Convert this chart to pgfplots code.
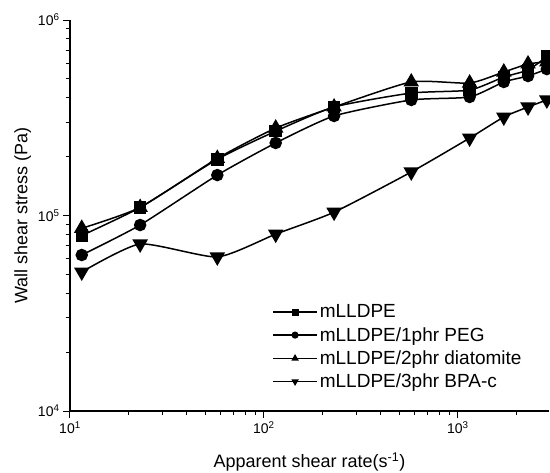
\documentclass[border=0pt]{standalone}
\usepackage{fontspec}
\setmainfont{Liberation Sans}
\usepackage{pgfplots}
\pgfplotsset{compat=1.18}
\begin{document}
\begin{tikzpicture}
\begin{axis}[
    name=ax,
    xmode=log, ymode=log,
    scale only axis,
    width=479pt, height=391pt,
    xmin=10, xmax=2950,
    ymin=1e4, ymax=1e6,
    axis lines*=left,
    axis line style={line width=1.3pt},
    tick align=outside,
    tick style={black, line width=1pt},
    major tick length=7pt,
    minor tick length=4pt,
    xtick={10,100,1000},
    xticklabels={10\textsuperscript{1},10\textsuperscript{2},10\textsuperscript{3}},
    minor xtick={20,30,40,50,60,70,80,90,200,300,400,500,600,700,800,900,2000},
    ytick={1e4,1e5,1e6},
    yticklabels={10\textsuperscript{4},10\textsuperscript{5},10\textsuperscript{6}},
    minor ytick={2e4,3e4,4e4,5e4,6e4,7e4,8e4,9e4,2e5,3e5,4e5,5e5,6e5,7e5,8e5,9e5},
    ticklabel style={font=\fontsize{14}{16}\selectfont},
    xlabel={Apparent shear rate(s\textsuperscript{-1})},
    ylabel={Wall shear stress (Pa)},
    label style={font=\fontsize{18}{20}\selectfont},
    xlabel style={yshift=-12pt},
    ylabel style={yshift=0pt},
    clip=false,
    every axis plot/.append style={black, line width=1.5pt, smooth, tension=0.35},
    legend image code/.code={
        \draw[mark repeat=2, mark phase=2, #1, mark size=2.8pt]
            plot coordinates {(0pt,0pt) (22pt,0pt) (44pt,0pt)};
    },
    legend style={
        draw=none, fill=none,
        at={(0.422,0.05)}, anchor=south west,
        font=\fontsize{19}{21}\selectfont,
        row sep=4pt,
        inner sep=0pt,
    },
    legend cell align=left,
]

% mLLDPE
\addplot[mark=square*, mark size=5.5pt] coordinates {
    (11.5,79000) (23,110000) (57.5,194000) (115,270000) (230,359000)
    (575,423000) (1150,438000) (1725,511000) (2300,555000) (2875,650000)
};

% mLLDPE/1phr PEG
\addplot[mark=*, mark size=5.5pt] coordinates {
    (11.5,62800) (23,89400) (57.5,161000) (115,235000) (230,323000)
    (575,390000) (1150,404000) (1725,482000) (2300,517000) (2875,561000)
};

% mLLDPE/2phr diatomite
\addplot[mark=triangle*, mark size=7.5pt] coordinates {
    (11.5,86000) (23,110000) (57.5,196000) (115,280000) (230,359000)
    (575,482000) (1150,476000) (1725,542000) (2300,596000) (2875,610000)
};

% mLLDPE/3phr BPA-c
\addplot[mark=triangle*, mark size=7.5pt, mark options={rotate=180}] coordinates {
    (11.5,51400) (23,71500) (57.5,61400) (115,80300) (230,104000)
    (575,167000) (1150,249000) (1725,319000) (2300,359000) (2875,390000)
};

\legend{mLLDPE, mLLDPE/1phr PEG, mLLDPE/2phr diatomite, mLLDPE/3phr BPA-c}

\coordinate (bl) at (rel axis cs:-0.1461,-0.156);
\coordinate (tr) at (rel axis cs:1.0021,1.0512);
\end{axis}
\pgfresetboundingbox
\path[use as bounding box] (bl) rectangle (tr);
\end{tikzpicture}
\end{document}
